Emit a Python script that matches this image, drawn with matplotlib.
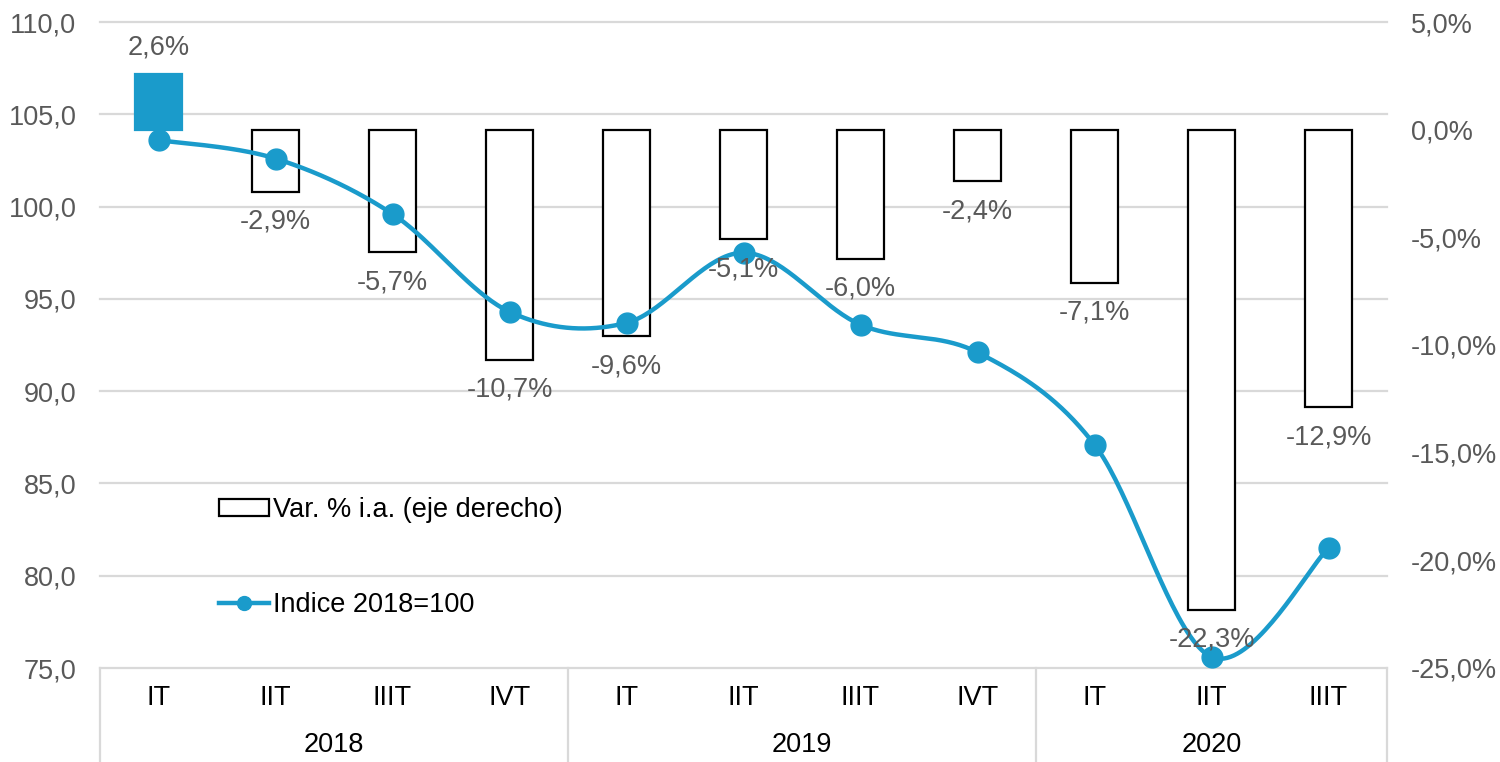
import numpy as np
import matplotlib
matplotlib.use("Agg")
import matplotlib.pyplot as plt
from matplotlib.patches import Patch
from matplotlib.lines import Line2D
from matplotlib.ticker import FuncFormatter, MultipleLocator
import matplotlib.transforms as mtransforms

plt.rcParams['font.family'] = ['Liberation Sans', 'DejaVu Sans']

# ---------------- data ----------------
quarters = ["IT", "IIT", "IIIT", "IVT", "IT", "IIT", "IIIT", "IVT", "IT", "IIT", "IIIT"]
years = ["2018", "2019", "2020"]
year_sizes = [4, 4, 3]
indice = [103.6, 102.6, 99.6, 94.3, 93.7, 97.5, 93.6, 92.1, 87.1, 75.6, 81.5]
var_ia = [2.6, -2.9, -5.7, -10.7, -9.6, -5.1, -6.0, -2.4, -7.1, -22.3, -12.9]
label_line = "Indice 2018=100"
label_bar = "Var. % i.a. (eje derecho)"

BLUE = "#1A9BCB"
GREY_TXT = "#595959"
GRID = "#D9D9D9"
FS = 19.5

def smooth(xs, ys, n=40):
    """Excel-like smoothed line (Catmull-Rom as cubic Bezier)."""
    P = np.column_stack([xs, ys]).astype(float)
    out = []
    m = len(P)
    for i in range(m - 1):
        p0 = P[i - 1] if i > 0 else P[i]
        p1, p2 = P[i], P[i + 1]
        p3 = P[i + 2] if i + 2 < m else P[i + 1]
        c1 = p1 + (p2 - p0) / 6.0
        c2 = p2 - (p3 - p1) / 6.0
        t = np.linspace(0, 1, n)[:, None]
        seg = ((1 - t) ** 3) * p1 + 3 * ((1 - t) ** 2) * t * c1 + 3 * (1 - t) * t ** 2 * c2 + t ** 3 * p2
        if i > 0:
            seg = seg[1:]
        out.append(seg)
    arr = np.vstack(out)
    return arr[:, 0], arr[:, 1]

fig = plt.figure(figsize=(15, 7.62), dpi=100)
L, R, B, T = 100, 1387, 668, 22
W, H = 1500, 762
ax2 = fig.add_axes([L / W, 1 - B / H, (R - L) / W, (B - T) / H])
ax = ax2.twinx()
ax.yaxis.tick_left()
ax2.yaxis.tick_right()
ax.set_zorder(ax2.get_zorder() + 1)
ax.patch.set_visible(False)

x = np.arange(len(quarters))

# bars on ax2 (right axis)
ax2.set_ylim(-25, 5)
ax2.set_xlim(-0.5, len(quarters) - 0.5)
colors = [BLUE if v > 0 else "white" for v in var_ia]
edges = [BLUE if v > 0 else "black" for v in var_ia]
ax2.bar(x, var_ia, width=0.4, color=colors, edgecolor=edges, linewidth=1.6, zorder=3)

# gridlines following the left axis
ax.set_ylim(75, 110)
ax.set_xlim(-0.5, len(quarters) - 0.5)
gtr = mtransforms.blended_transform_factory(ax2.transAxes, ax.transData)
for gv in np.arange(75, 110.1, 5):
    ax2.plot([0, 1], [gv, gv], transform=gtr, color=GRID, lw=1.6, zorder=1, clip_on=False)

# line on ax
sx, sy = smooth(x, indice)
ax.plot(sx, sy, color=BLUE, lw=3.2, zorder=4, solid_capstyle='round')
ax.plot(x, indice, linestyle='none', marker='o', markersize=15, color=BLUE, zorder=5)

# data labels
for xi, v in zip(x, var_ia):
    off = 19 if v > 0 else -21.5
    lab = f"{v:.1f}%".replace(".", ",")
    ax.annotate(lab, xy=(xi, v), xycoords=ax2.transData, xytext=(0, off), textcoords='offset points',
                ha='center', va='center', fontsize=FS, color=GREY_TXT, zorder=6)

# axes formatting
for a in (ax, ax2):
    for s in a.spines.values():
        s.set_visible(False)
ax.yaxis.set_major_locator(MultipleLocator(5))
ax2.yaxis.set_major_locator(MultipleLocator(5))
ax.yaxis.set_major_formatter(FuncFormatter(lambda v, p: f"{v:.1f}".replace(".", ",")))
ax2.yaxis.set_major_formatter(FuncFormatter(lambda v, p: f"{v:.1f}%".replace(".", ",")))
ax.tick_params(axis='y', length=0, pad=17, labelsize=FS, labelcolor=GREY_TXT)
ax2.tick_params(axis='y', length=0, pad=17, labelsize=FS, labelcolor=GREY_TXT)
ax.set_xticks([])
ax2.set_xticks([])

# category labels (two levels)
bt = mtransforms.blended_transform_factory(ax.transData, ax.transAxes)
hpx = B - T
for xi, q in zip(x, quarters):
    ax.text(xi, -(698 - B) / hpx, q, transform=bt, ha='center', va='center', fontsize=FS, color='black')
start = 0
seps = [-0.5]
for yname, n in zip(years, year_sizes):
    center = start + (n - 1) / 2
    ax.text(center, -(745 - B) / hpx, yname, transform=bt, ha='center', va='center', fontsize=FS, color='black')
    start += n
    seps.append(start - 0.5)
for sxp in seps:
    ax.plot([sxp, sxp], [0, -(H - B) / hpx], transform=bt, color=GRID, lw=1.6, clip_on=False)

# legend
h_bar = Patch(facecolor='white', edgecolor='black', linewidth=1.6)
h_line = Line2D([], [], color=BLUE, lw=3.2, marker='o', markersize=10)
leg = ax.legend([h_bar, h_line], [label_bar, label_line], loc='center left',
                bbox_to_anchor=(205 / W, 1 - 557.5 / H), bbox_transform=fig.transFigure,
                frameon=False, fontsize=FS, labelspacing=2.55, handlelength=1.85,
                handletextpad=0.15, borderpad=0, handleheight=0.55)
for t in leg.get_texts():
    t.set_color('black')

fig.savefig("out.png", dpi=100)
